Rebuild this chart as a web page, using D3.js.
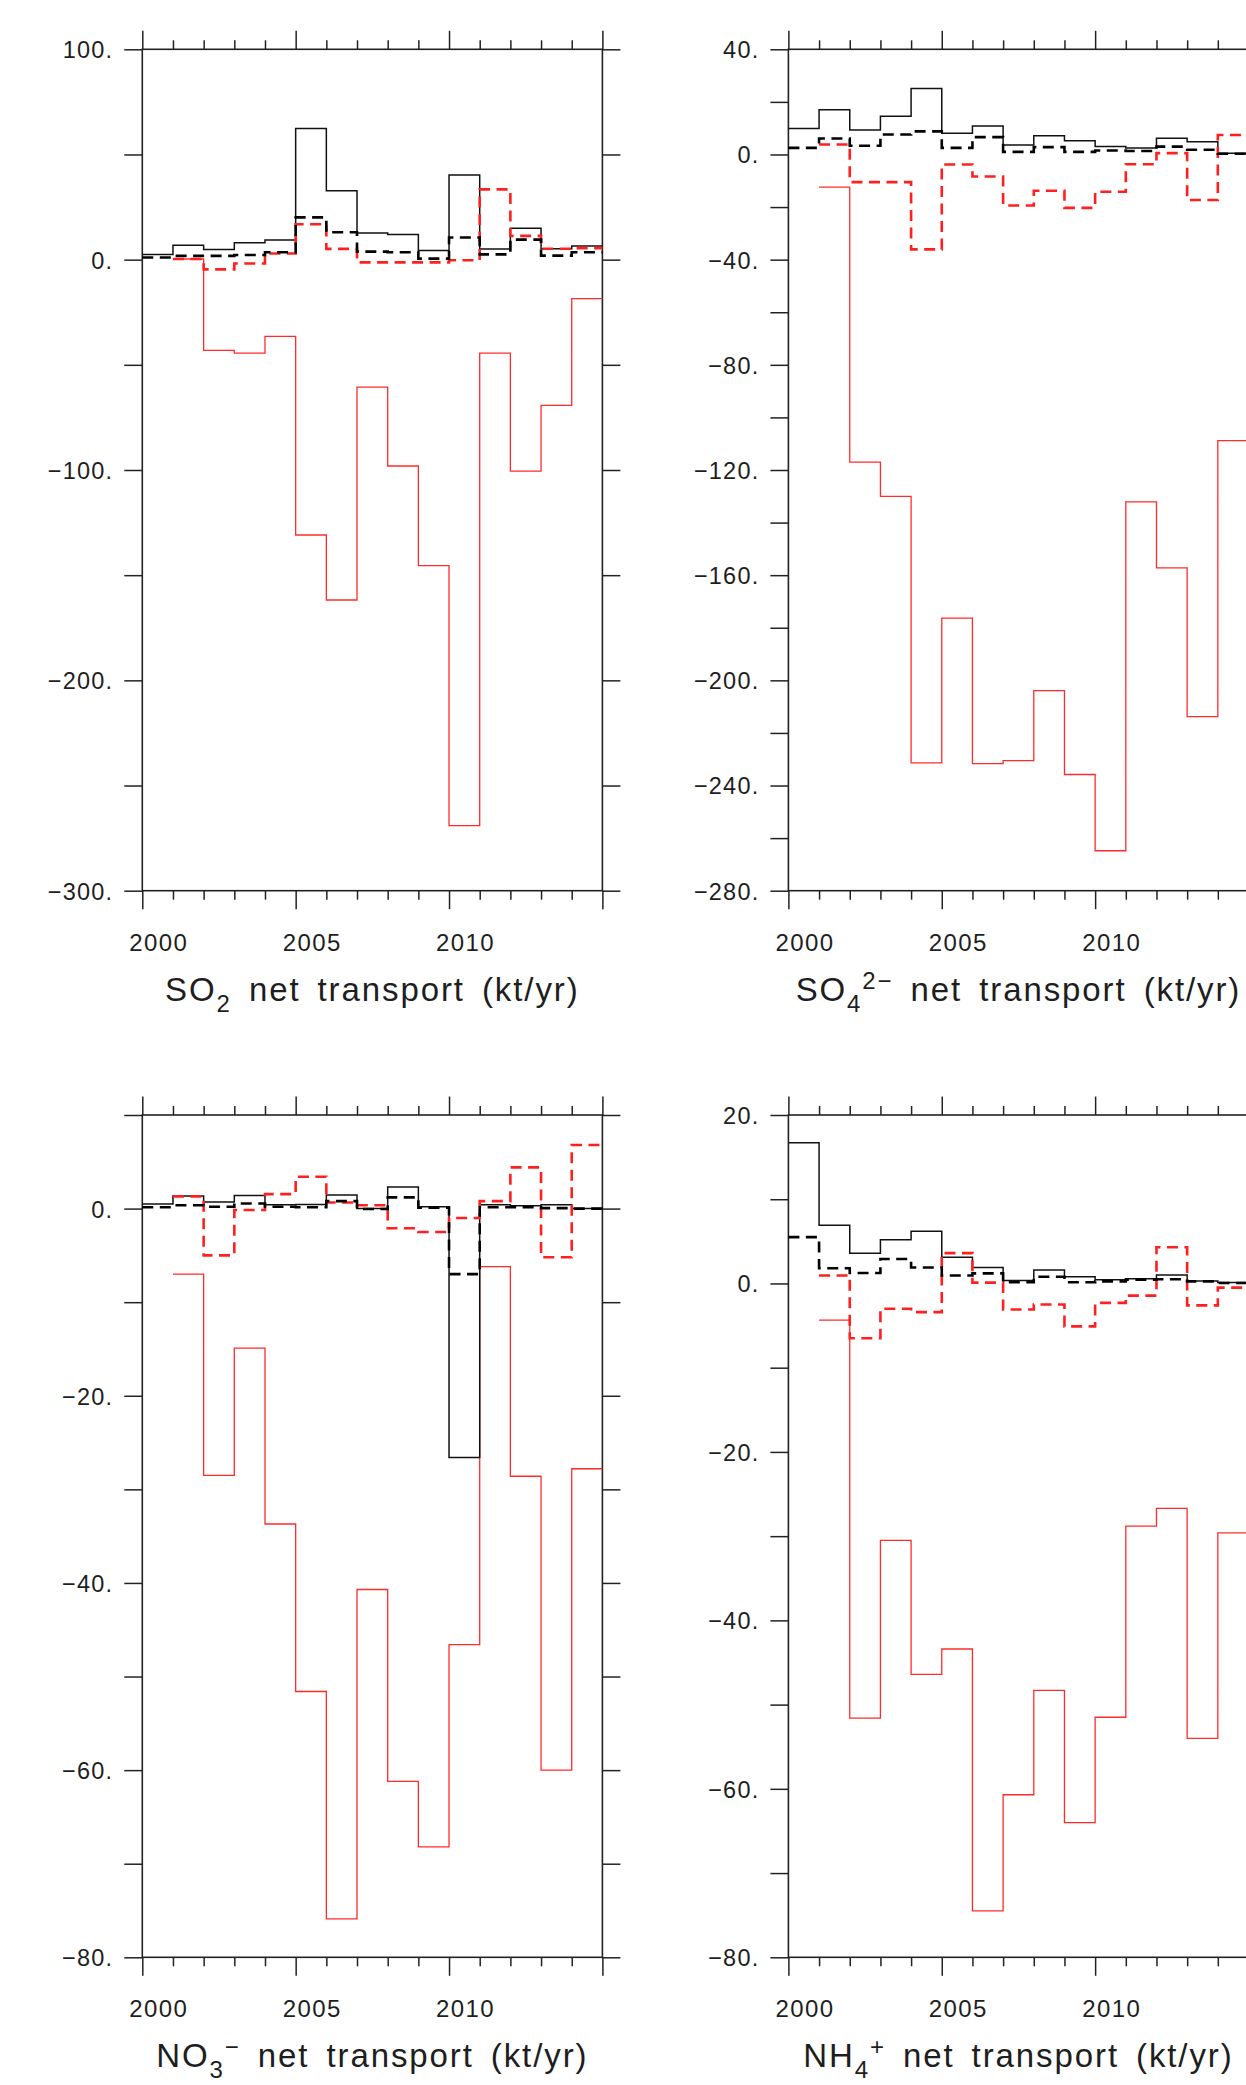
<!DOCTYPE html>
<html>
<head>
<meta charset="utf-8">
<script src="https://cdn.jsdelivr.net/npm/d3@7"></script>
<style>
  html, body { margin: 0; padding: 0; background: #fff; }
  svg { display: block; }
  text { font-family: "Liberation Sans", Arial, sans-serif; fill: #1e1e1e; }
</style>
</head>
<body>
<svg id="chart" width="1246" height="2085"></svg>
<script>
// ---------------- DATA ----------------
const years = [2000, 2001, 2002, 2003, 2004, 2005, 2006, 2007, 2008, 2009, 2010, 2011, 2012, 2013, 2014];
const xTickLabels = ["2000", "2005", "2010"];

// SO2 net transport (kt/yr)
const so2BlackSolid  = [2.5, 6.8, 4.8, 8.0, 9.3, 62.3, 32.8, 12.7, 12.0, 4.4, 40.3, 5.1, 14.9, 5.2, 6.5];
const so2BlackDashed = [1.0, 1.8, 1.8, 2.2, 3.5, 20.1, 13.0, 3.8, 3.5, 0.5, 10.5, 2.5, 9.5, 1.9, 3.5];
const so2RedSolid    = [null, 0.3, -43.1, -44.4, -36.5, -130.9, -161.8, -60.6, -98.1, -145.5, -269.1, -44.4, -100.5, -69.3, -18.5];
const so2RedDashed   = [null, 0.3, -4.6, -1.8, 2.9, 16.8, 5.1, -1.3, -1.3, -1.3, -0.3, 33.4, 11.3, 5.2, 5.5];

// SO4 2- net transport (kt/yr)
const so4BlackSolid  = [9.9, 17.0, 9.3, 14.5, 25.1, 8.1, 10.8, 3.6, 7.1, 5.2, 3.0, 2.5, 6.2, 4.8, 0.5];
const so4BlackDashed = [2.5, 6.1, 3.3, 7.6, 8.8, 2.5, 6.6, 1.0, 2.8, 1.0, 1.5, 1.3, 3.0, 1.8, 0.3];
const so4RedSolid    = [null, -12.4, -117.0, -130.0, -231.4, -176.3, -231.7, -230.5, -203.9, -235.8, -264.8, -132.1, -157.2, -213.8, -108.8];
const so4RedDashed   = [null, 3.8, -10.5, -10.5, -36.1, -3.8, -8.4, -19.4, -13.8, -20.3, -14.2, -3.7, 0.5, -17.3, 7.4];

// NO3 - net transport (kt/yr)
const no3BlackSolid  = [0.5, 1.35, 0.7, 1.4, 0.4, 0.45, 1.45, 0.0, 2.3, 0.2, -26.6, 0.4, 0.3, 0.4, 0.0];
const no3BlackDashed = [0.15, 0.35, 0.2, 0.55, 0.2, 0.15, 0.8, -0.05, 1.2, 0.1, -7.0, 0.15, 0.15, 0.05, 0.0];
const no3RedSolid    = [null, -7.0, -28.5, -14.9, -33.7, -51.6, -75.9, -40.7, -61.2, -68.2, -46.6, -6.2, -28.6, -60.0, -27.8];
const no3RedDashed   = [null, 1.3, -5.0, -0.15, 1.55, 3.4, 0.65, 0.35, -2.1, -2.5, -1.0, 0.8, 4.4, -5.2, 6.8];

// NH4 + net transport (kt/yr)
const nh4BlackSolid  = [16.7, 6.9, 3.6, 5.2, 6.2, 3.1, 1.9, 0.35, 1.6, 0.8, 0.45, 0.55, 1.0, 0.3, 0.1];
const nh4BlackDashed = [5.5, 1.8, 1.25, 2.9, 1.9, 0.95, 1.2, 0.15, 0.8, 0.15, 0.25, 0.45, 0.5, 0.25, 0.05];
const nh4RedSolid    = [null, -4.35, -51.6, -30.5, -46.4, -43.4, -74.5, -60.7, -48.3, -64.0, -51.5, -28.8, -26.7, -54.0, -29.6];
const nh4RedDashed   = [null, 0.95, -6.5, -3.0, -3.4, 3.6, 0.1, -3.1, -2.5, -5.1, -2.3, -1.45, 4.3, -2.6, -0.5];

// y axis definitions
const so2YDomain = [-300, 100], so2YTickStep = 50, so2YLabelStep = 100;
const so4YDomain = [-280, 40],  so4YTickStep = 20, so4YLabelStep = 40;
const no3YDomain = [-80, 10],   no3YTickStep = 10, no3YLabelStep = 20;
const nh4YDomain = [-80, 20],   nh4YTickStep = 10, nh4YLabelStep = 20;

// titles: [text, kind] kind: "n" normal, "b" subscript, "p" superscript
const so2Title = [["SO", "n"], ["2", "b"], [" net transport (kt/yr)", "n"]];
const so4Title = [["SO", "n"], ["4", "b"], ["2\u2212", "p"], [" net transport (kt/yr)", "n"]];
const no3Title = [["NO", "n"], ["3", "b"], ["\u2212", "p"], [" net transport (kt/yr)", "n"]];
const nh4Title = [["NH", "n"], ["4", "b"], ["+", "p"], [" net transport (kt/yr)", "n"]];

// ---------------- LAYOUT ----------------
const colX = [142.3, 788.4];
const plotW = 460.1;
const rowY = [[49.3, 890.7], [1115, 1957.3]];

const panels = [
  {col: 0, row: 0, dom: so2YDomain, step: so2YTickStep, lstep: so2YLabelStep, title: so2Title,
   series: [so2RedSolid, so2BlackSolid, so2RedDashed, so2BlackDashed]},
  {col: 1, row: 0, dom: so4YDomain, step: so4YTickStep, lstep: so4YLabelStep, title: so4Title,
   series: [so4RedSolid, so4BlackSolid, so4RedDashed, so4BlackDashed]},
  {col: 0, row: 1, dom: no3YDomain, step: no3YTickStep, lstep: no3YLabelStep, title: no3Title,
   series: [no3RedSolid, no3BlackSolid, no3RedDashed, no3BlackDashed]},
  {col: 1, row: 1, dom: nh4YDomain, step: nh4YTickStep, lstep: nh4YLabelStep, title: nh4Title,
   series: [nh4RedSolid, nh4BlackSolid, nh4RedDashed, nh4BlackDashed]}
];

const styles = [
  {stroke: "#ff2b2b", width: 1.3, dash: null},
  {stroke: "#111",    width: 1.5, dash: null},
  {stroke: "#ff1f1f", width: 2.6, dash: "11,6.5"},
  {stroke: "#000",    width: 2.6, dash: "11,6.5"}
];

const svg = d3.select("#chart");
const fmtY = d => (d < 0 ? "\u2212" : "") + Math.abs(d) + ".";
const tickColor = "#222";

panels.forEach(p => {
  const x0 = colX[p.col], x1 = x0 + plotW;
  const [y0, y1] = rowY[p.row];
  const x = d3.scaleLinear().domain([2000, 2015]).range([x0, x1]);
  const y = d3.scaleLinear().domain(p.dom).range([y1, y0]);
  const g = svg.append("g");

  const yTicks = d3.range(p.dom[0], p.dom[1] + 0.001, p.step);
  const isLab = d => Math.abs(Math.round(d / p.lstep) * p.lstep - d) < 1e-6;

  const gl = g.append("g").attr("transform", `translate(${x0},0)`)
    .call(d3.axisLeft(y).tickValues(yTicks).tickSize(18).tickPadding(11)
      .tickFormat(d => isLab(d) ? fmtY(d) : ""));
  const gr = g.append("g").attr("transform", `translate(${x1},0)`)
    .call(d3.axisRight(y).tickValues(yTicks).tickSize(18).tickFormat(""));
  const xt = d3.range(2000, 2016);
  const gt = g.append("g").attr("transform", `translate(0,${y0})`)
    .call(d3.axisTop(x).tickValues(xt).tickSize(18.5).tickFormat(""));
  const gb = g.append("g").attr("transform", `translate(0,${y1})`)
    .call(d3.axisBottom(x).tickValues(xt).tickSize(18.5).tickFormat(""));
  gt.selectAll(".tick line").filter(d => d % 5 !== 0).attr("y2", -9);
  gb.selectAll(".tick line").filter(d => d % 5 !== 0).attr("y2", 9);

  const gx = g.append("g").attr("transform", `translate(0,${y1})`)
    .call(d3.axisBottom(x).tickValues(xTickLabels.map(s => +s + 0.5)).tickSize(0).tickPadding(0)
      .tickFormat(d => xTickLabels[xTickLabels.indexOf(String(Math.floor(d)))]));
  gx.selectAll(".tick text").attr("dy", null).attr("y", 60).attr("dx", 0.7)
    .style("font-size", "24px").style("letter-spacing", "1.4px");

  [gl, gr, gt, gb, gx].forEach(a => {
    a.select(".domain").remove();
    a.selectAll(".tick line").attr("stroke", tickColor).attr("stroke-width", 1.5);
  });
  gl.selectAll(".tick text").style("font-size", "23.5px").style("letter-spacing", "1.2px")
    .attr("fill", "#1e1e1e").attr("dy", "0.36em");
  gx.selectAll(".tick text").attr("fill", "#1e1e1e");

  g.append("rect").attr("x", x0).attr("y", y0).attr("width", x1 - x0).attr("height", y1 - y0)
    .attr("fill", "none").attr("stroke", tickColor).attr("stroke-width", 1.6);

  p.series.forEach((vals, i) => {
    const pts = years.map((yr, k) => ({yr, v: vals[k]}));
    pts.push({yr: 2015, v: vals[vals.length - 1]});
    const line = d3.line().defined(d => d.v !== null).x(d => x(d.yr)).y(d => y(d.v))
      .curve(d3.curveStepAfter);
    const s = styles[i];
    g.append("path").attr("d", line(pts)).attr("fill", "none")
      .attr("stroke", s.stroke).attr("stroke-width", s.width)
      .attr("stroke-dasharray", s.dash).attr("stroke-linejoin", "miter");
  });

  const t = g.append("text").attr("x", (x0 + x1) / 2).attr("y", y1 + 110)
    .attr("text-anchor", "middle").style("font-size", "33px")
    .style("letter-spacing", "1.9px").style("word-spacing", "6px").style("white-space", "pre");
  let cur = 0;
  p.title.forEach(([txt, kind]) => {
    const target = kind === "b" ? 11 : (kind === "p" ? -12 : 0);
    t.append("tspan").attr("dy", target - cur)
      .style("font-size", kind === "n" ? "33px" : "24px").text(txt);
    cur = target;
  });
});
</script>
</body>
</html>
